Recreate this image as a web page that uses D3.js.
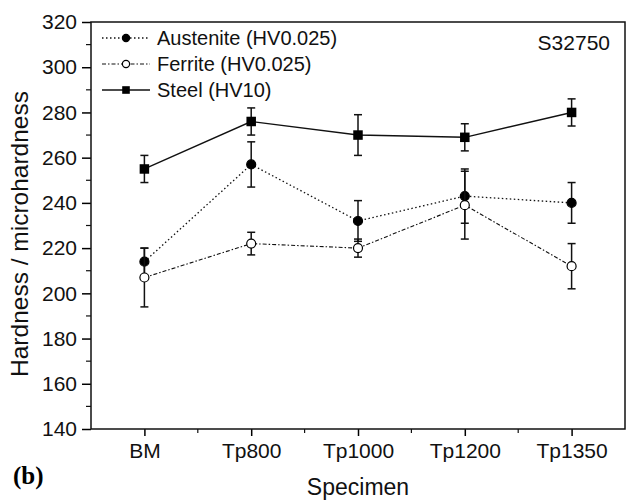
<!DOCTYPE html>
<html>
<head>
<meta charset="utf-8">
<script src="https://cdn.jsdelivr.net/npm/d3@7"></script>
<style>
  body { margin: 0; background: #fff; }
  svg { display: block; font-family: "Liberation Sans", Arial, sans-serif; }
</style>
</head>
<body>
<script>
// categories and values
const specimens = ["BM", "Tp800", "Tp1000", "Tp1200", "Tp1350"];
const austenite = [214, 257, 232, 243, 240];
const austeniteErr = [6, 10, 9, 12, 9];
const ferrite = [207, 222, 220, 239, 212];
const ferriteErr = [13, 5, 4, 15, 10];
const steel = [255, 276, 270, 269, 280];
const steelErr = [6, 6, 9, 6, 6];
const yTicks = [140, 160, 180, 200, 220, 240, 260, 280, 300, 320];

const width = 626, height = 503;
const margin = { top: 22, right: 1, bottom: 74, left: 91 };

const svg = d3.select("body").append("svg")
  .attr("width", width)
  .attr("height", height);

const x = d3.scalePoint()
  .domain(specimens)
  .range([margin.left, width - margin.right])
  .padding(0.5);

const y = d3.scaleLinear()
  .domain([140, 320])
  .range([height - margin.bottom, margin.top]);

const x0 = margin.left, x1 = width - margin.right;
const yb = height - margin.bottom, yt = margin.top;

// 坐标轴 ---- y
const yAxis = svg.append("g")
  .attr("transform", `translate(${x0},0)`)
  .call(d3.axisLeft(y).tickValues(yTicks).tickSize(9).tickPadding(5).tickFormat(d3.format("d")));
yAxis.select(".domain").remove();
yAxis.selectAll("line").attr("stroke-width", 1.5);
yAxis.selectAll("text").attr("font-size", 21).attr("fill", "#111");

// y minor ticks
svg.append("g")
  .selectAll("line")
  .data(d3.range(150, 320, 20))
  .join("line")
  .attr("x1", x0 - 5).attr("x2", x0)
  .attr("y1", d => y(d)).attr("y2", d => y(d))
  .attr("stroke", "#111").attr("stroke-width", 1.2);

// 坐标轴 ---- x
const xAxis = svg.append("g")
  .attr("transform", `translate(0,${yb})`)
  .call(d3.axisBottom(x).tickSize(7).tickPadding(7));
xAxis.select(".domain").remove();
xAxis.selectAll("line").attr("stroke-width", 1.5);
xAxis.selectAll("text").attr("font-size", 21).attr("fill", "#111");

// x minor ticks between categories
const step = x.step();
svg.append("g")
  .selectAll("line")
  .data(specimens.slice(1))
  .join("line")
  .attr("x1", d => x(d) - step / 2).attr("x2", d => x(d) - step / 2)
  .attr("y1", yb).attr("y2", yb + 4)
  .attr("stroke", "#111").attr("stroke-width", 1.2);

// frame
svg.append("rect")
  .attr("x", x0).attr("y", yt)
  .attr("width", x1 - x0).attr("height", yb - yt)
  .attr("fill", "none").attr("stroke", "#111").attr("stroke-width", 1.5);

// series
const series = [
  { name: "Austenite (HV0.025)", values: austenite, err: austeniteErr, dash: "1.5,2.5", width: 1.3, marker: "dot" },
  { name: "Ferrite (HV0.025)", values: ferrite, err: ferriteErr, dash: "4,2,1.5,2", width: 1.1, marker: "open" },
  { name: "Steel (HV10)", values: steel, err: steelErr, dash: null, width: 1.4, marker: "square" }
];

const line = d3.line()
  .x((d, i) => x(specimens[i]))
  .y(d => y(d));

// k = 1 在图中，k < 1 在图例中（标记更小）
function drawMarker(g, type, k) {
  if (type === "square") {
    const s = 9.5 * k;
    g.append("rect").attr("x", -s / 2).attr("y", -s / 2).attr("width", s).attr("height", s)
      .attr("fill", "#000");
  } else {
    g.append("circle").attr("r", 4.5 * k)
      .attr("fill", type === "dot" ? "#000" : "#fff")
      .attr("stroke", "#000").attr("stroke-width", 1.2);
  }
}

series.forEach(s => {
  const g = svg.append("g");
  g.append("path")
    .attr("d", line(s.values))
    .attr("fill", "none")
    .attr("stroke", "#111")
    .attr("stroke-width", s.width)
    .attr("stroke-dasharray", s.dash);

  // error bars
  const eb = g.append("g")
    .selectAll("g")
    .data(s.values)
    .join("g")
    .attr("stroke", "#111")
    .attr("stroke-width", 1.5);
  eb.append("line")
    .attr("x1", (d, i) => x(specimens[i])).attr("x2", (d, i) => x(specimens[i]))
    .attr("y1", (d, i) => y(d + s.err[i])).attr("y2", (d, i) => y(d - s.err[i]));
  eb.append("line")
    .attr("x1", (d, i) => x(specimens[i]) - 4).attr("x2", (d, i) => x(specimens[i]) + 4)
    .attr("y1", (d, i) => y(d + s.err[i])).attr("y2", (d, i) => y(d + s.err[i]));
  eb.append("line")
    .attr("x1", (d, i) => x(specimens[i]) - 4).attr("x2", (d, i) => x(specimens[i]) + 4)
    .attr("y1", (d, i) => y(d - s.err[i])).attr("y2", (d, i) => y(d - s.err[i]));

  g.append("g")
    .selectAll("g")
    .data(s.values)
    .join("g")
    .attr("transform", (d, i) => `translate(${x(specimens[i])},${y(d)})`)
    .each(function () { drawMarker(d3.select(this), s.marker, 1); });
});

// legend
const legend = svg.append("g").attr("transform", "translate(102,38)");
series.forEach((s, i) => {
  const row = legend.append("g").attr("transform", `translate(0,${i * 26})`);
  row.append("line")
    .attr("x1", 0).attr("x2", 48)
    .attr("stroke", "#111")
    .attr("stroke-width", s.width)
    .attr("stroke-dasharray", s.dash);
  drawMarker(row.append("g").attr("transform", "translate(24,0)"), s.marker, 0.8);
  row.append("text")
    .attr("x", 55).attr("dy", "0.35em")
    .attr("font-size", 20).attr("fill", "#111")
    .text(s.name);
});

svg.append("text")
  .attr("x", 610).attr("y", 50)
  .attr("text-anchor", "end")
  .attr("font-size", 21).attr("fill", "#111")
  .text("S32750");

// axis titles
svg.append("text")
  .attr("x", (x0 + x1) / 2).attr("y", 495)
  .attr("text-anchor", "middle")
  .attr("font-size", 23).attr("fill", "#111")
  .text("Specimen");

svg.append("text")
  .attr("transform", "translate(28,234) rotate(-90)")
  .attr("text-anchor", "middle")
  .attr("font-size", 24.5).attr("fill", "#111")
  .text("Hardness / microhardness");

svg.append("text")
  .attr("x", 13).attr("y", 484)
  .attr("font-family", "'Liberation Serif', 'Times New Roman', serif")
  .attr("font-weight", "bold")
  .attr("font-size", 25).attr("fill", "#000")
  .text("(b)");
</script>
</body>
</html>
